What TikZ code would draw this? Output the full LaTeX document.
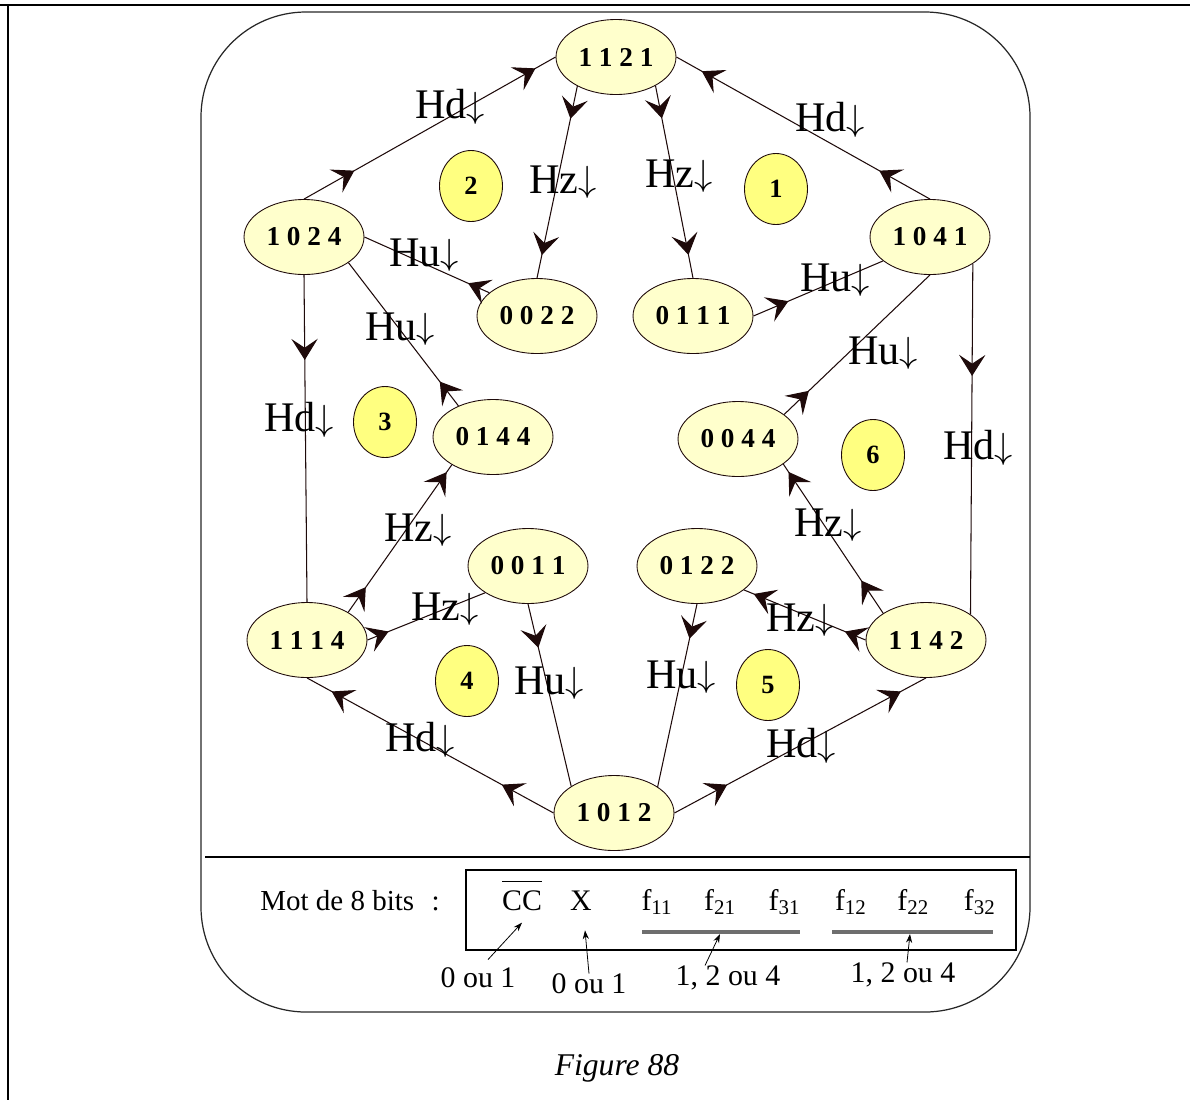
\documentclass[tikz,border=0pt]{standalone}
\usepackage{fontspec}
\setmainfont{Liberation Serif}
\usetikzlibrary{positioning, arrows.meta, shapes.geometric, decorations.markings}

\definecolor{statefill}{HTML}{FFFFCC}
\definecolor{zonefill}{HTML}{FFFF80}
\definecolor{wire}{HTML}{1E0A0A}
\definecolor{rulegray}{HTML}{6E6E6E}

\tikzset{vtip/.tip={Stealth[length=12pt, width=15pt, inset=5pt]}}
\newcommand{\trlab}[1]{#1\raisebox{1pt}{\fontsize{20}{20}\selectfont$\downarrow$}}

\begin{document}
\begin{tikzpicture}[
  x=0.02cm, y=-0.02cm,
  state/.style={ellipse, draw=wire, fill=statefill, line width=0.5pt, inner sep=0pt,
                minimum width=2.4cm, minimum height=1.5cm,
                font=\fontsize{15.5}{15.5}\selectfont\bfseries},
  zone/.style={ellipse, draw=wire, fill=zonefill, line width=0.5pt, inner sep=0pt,
               minimum width=1.26cm, minimum height=1.42cm,
               font=\fontsize{15}{15}\selectfont\bfseries},
  trans/.style={draw=wire, color=wire, line width=0.6pt},
  arrowat/.style={postaction={decorate, decoration={markings,
                  mark=at position #1 with {\arrow{vtip}}}}},
  lab/.style={inner sep=0pt, font=\fontsize{24}{24}\selectfont},
  word/.style={inner sep=0pt, font=\fontsize{17}{17}\selectfont},
  ptr/.style={-{Stealth[length=5pt, width=3.5pt]}, line width=0.45pt},
]
\useasboundingbox (0,0) rectangle (1190,1100);

% page frame and panel
\draw[line width=1.5pt] (0,5) -- (1190,5);
\draw[line width=1.1pt] (8,5) -- (8,1100);
\draw[black!85, line width=0.7pt, rounded corners=2.1cm] (201,12) rectangle (1030,1012);
\draw[line width=0.6pt] (205,857) -- (1030,857);

% states
\node[state] (n1121) at (616,57) {1 1 2 1};
\node[state] (n1024) at (304,237) {1 0 2 4};
\node[state] (n1041) at (930,237) {1 0 4 1};
\node[state] (n0022) at (537,316) {0 0 2 2};
\node[state] (n0111) at (693,316) {0 1 1 1};
\node[state] (n0144) at (493,437) {0 1 4 4};
\node[state] (n0044) at (738,439) {0 0 4 4};
\node[state] (n0011) at (528,566) {0 0 1 1};
\node[state] (n0122) at (697,566) {0 1 2 2};
\node[state] (n1114) at (307,640) {1 1 1 4};
\node[state] (n1142) at (926,640) {1 1 4 2};
\node[state] (n1012) at (614,813) {1 0 1 2};

% zones
\node[zone] (z1) at (776,189) {1};
\node[zone] (z2) at (471,186) {2};
\node[zone] (z3) at (385,422) {3};
\node[zone] (z4) at (467,681) {4};
\node[zone] (z5) at (768,685) {5};
\node[zone] (z6) at (873,455) {6};

% transitions
\draw[trans, arrowat=0.2, arrowat=0.92] (n1024.north) -- (n1121.west);
\draw[trans, arrowat=0.2, arrowat=0.9] (n1041.north) -- (n1121.east);
\draw[trans, arrowat=0.17, arrowat=0.88] (n1121.-143) -- (n0022.north);
\draw[trans, arrowat=0.17, arrowat=0.88] (n1121.-36) -- (n0111.north);
\draw[trans, arrowat=0.17] (n0022.154) -- (n1024.east);
\draw[trans, arrowat=0.17] (n0144.138) -- (n1024.-30);
\draw[trans, arrowat=0.27] (n0111.east) -- (n1041.-153);
\draw[trans, arrowat=0.17] (n0044.28) -- (n1041.south);
\draw[trans, arrowat=0.26] (n1024.south) -- (n1114.north);
\draw[trans, arrowat=0.32] (n1041.-32.5) -- (n1142.30);
\draw[trans, arrowat=0.17, arrowat=0.95] (n1114.34) -- (n0144.-146);
\draw[trans, arrowat=0.18] (n1114.east) -- (n0011.-148);
\draw[trans, arrowat=0.24] (n0011.south) -- (n1012.148);
\draw[trans, arrowat=0.19] (n0122.south) -- (n1012.31);
\draw[trans, arrowat=0.21, arrowat=0.9] (n1012.west) -- (n1114.south);
\draw[trans, arrowat=0.21, arrowat=0.9] (n1012.east) -- (n1142.south);
\draw[trans, arrowat=0.17, arrowat=0.92] (n1142.west) -- (n0122.-27);
\draw[trans, arrowat=0.22, arrowat=0.95] (n1142.148) -- (n0044.-29);

% transition labels
\node[lab] (hd1) at (450,107) {\trlab{Hd}};
\node[lab] (hd2) at (830,120) {\trlab{Hd}};
\node[lab] (hz1) at (563,182) {\trlab{Hz}};
\node[lab] (hz2) at (679,176) {\trlab{Hz}};
\node[lab] (hu1) at (424,255) {\trlab{Hu}};
\node[lab] (hu2) at (400,329) {\trlab{Hu}};
\node[lab] (hu3) at (835,280) {\trlab{Hu}};
\node[lab] (hu4) at (883,353) {\trlab{Hu}};
\node[lab] (hd3) at (299,420) {\trlab{Hd}};
\node[lab] (hd4) at (978,448) {\trlab{Hd}};
\node[lab] (hz3) at (418,530) {\trlab{Hz}};
\node[lab] (hz4) at (445,609) {\trlab{Hz}};
\node[lab] (hu5) at (549,683) {\trlab{Hu}};
\node[lab] (hu6) at (681,677) {\trlab{Hu}};
\node[lab] (hd5) at (420,740) {\trlab{Hd}};
\node[lab] (hd6) at (801,746) {\trlab{Hd}};
\node[lab] (hz5) at (800,620) {\trlab{Hz}};
\node[lab] (hz6) at (828,525) {\trlab{Hz}};

% 8-bit word
\node[word, anchor=base west, font=\fontsize{16.5}{16.5}\selectfont] (mot) at (260,910)
  {Mot de 8 bits\hspace{10pt}:};
\draw[line width=0.6pt] (466,870) rectangle (1016,950);
\node[word, anchor=base] (cc) at (522,910) {$\overline{\mbox{CC\rule{0pt}{15pt}}}$};
\node[word, anchor=base] (xbit) at (581,910) {X};
\node[word, anchor=base] (f11) at (657,910) {f\textsubscript{11}};
\node[word, base right=0.62cm of f11] (f21) {f\textsubscript{21}};
\node[word, base right=0.64cm of f21] (f31) {f\textsubscript{31}};
\node[word, base right=0.68cm of f31] (f12) {f\textsubscript{12}};
\node[word, base right=0.6cm of f12] (f22) {f\textsubscript{22}};
\node[word, base right=0.68cm of f22] (f32) {f\textsubscript{32}};
\draw[rulegray, line width=2pt] (642,932) -- (800,932);
\draw[rulegray, line width=2pt] (832,932) -- (993,932);
\coordinate (u1) at (720,934);
\coordinate (u2) at (910,934);

\node[word] (v1) at (478,978) {0 ou 1};
\node[word] (v2) at (589,984) {0 ou 1};
\node[word] (v3) at (728,978) {1, 2 ou 4};
\node[word] (v4) at (903,975) {1, 2 ou 4};
\draw[ptr] ([shift={(0.2cm,0.16cm)}]v1.north) -- ([yshift=-0.24cm]cc.south);
\draw[ptr] (v2.north) -- ([shift={(0.08cm,-0.4cm)}]xbit.south);
\draw[ptr] ([xshift=-0.46cm]v3.north) -- (u1);
\draw[ptr] ([xshift=0.08cm]v4.north) -- (u2);

\node[font=\fontsize{18}{18}\selectfont\itshape] (cap) at (617,1068) {Figure 88};
\end{tikzpicture}
\end{document}
